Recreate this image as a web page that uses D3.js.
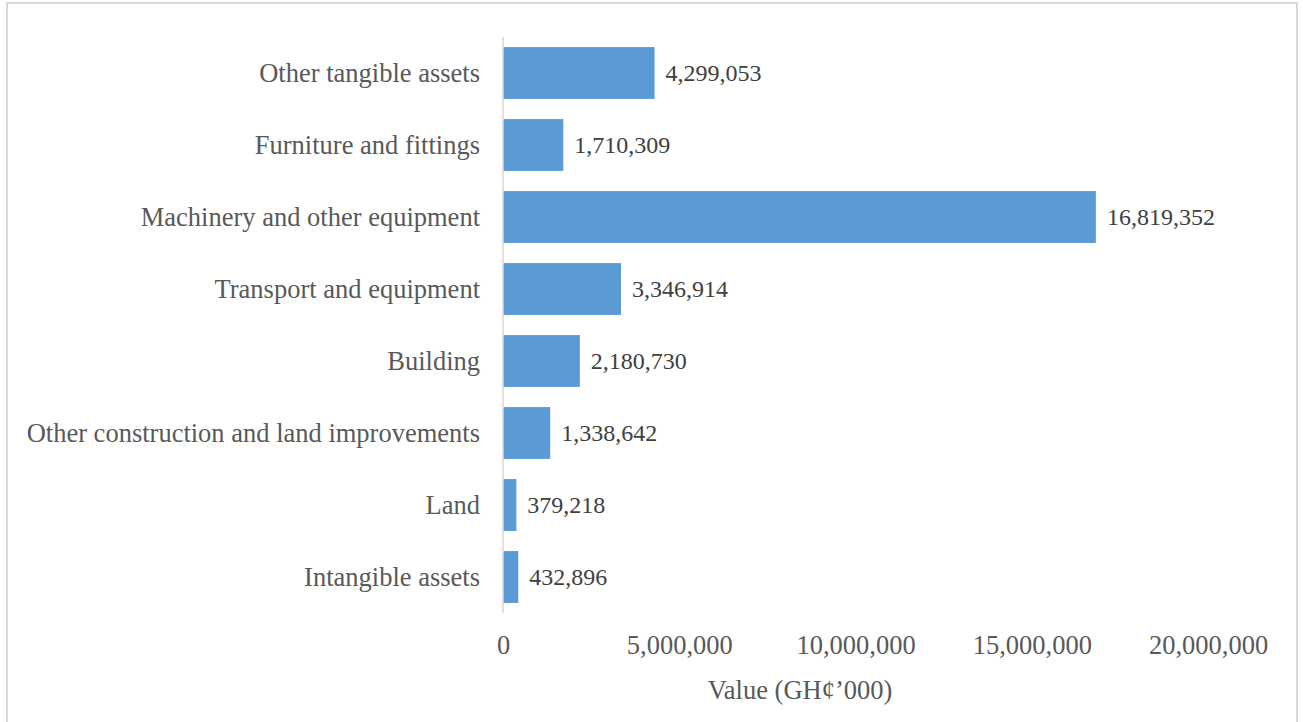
<!DOCTYPE html>
<html>
<head>
<meta charset="utf-8">
<script src="https://cdn.jsdelivr.net/npm/d3@7"></script>
<style>
  html, body { margin: 0; padding: 0; background: #fff; }
  svg { display: block; }
  text { font-family: "Liberation Serif", "Times New Roman", serif; }
</style>
</head>
<body>
<div id="chart"></div>
<script>
// Categories top to bottom, with their values (GH¢'000)
const categories = [
  'Other tangible assets',
  'Furniture and fittings',
  'Machinery and other equipment',
  'Transport and equipment',
  'Building',
  'Other construction and land improvements',
  'Land',
  'Intangible assets'
];
const values = [4299053, 1710309, 16819352, 3346914, 2180730, 1338642, 379218, 432896];
const xTicks = [0, 5000000, 10000000, 15000000, 20000000];
const xTitle = 'Value (GH\u00a2\u2019000)';

const W = 1303, H = 722;
const PLOT = { left: 503, right: 1208, top: 37, bottom: 613 };
const FONT_SIZE = 26.5;       // category, tick and title text
const LABEL_SIZE = 24;        // value labels at bar ends
const BAR_COLOR = '#5b9bd5';
const GRID_COLOR = '#d9d9d9';

const svg = d3.select('#chart').append('svg').attr('width', W).attr('height', H);

// frame round the chart (bottom edge lies past the picture)
svg.append('rect')
  .attr('x', 7).attr('y', 3).attr('width', 1290).attr('height', 740)
  .attr('fill', 'none').attr('stroke', GRID_COLOR).attr('stroke-width', 2);

const x = d3.scaleLinear().domain([0, 20000000]).range([PLOT.left, PLOT.right]);
const y = d3.scaleBand().domain(categories).range([PLOT.top, PLOT.bottom]).paddingInner(0.28).paddingOuter(0.14);

const fmt = d3.format(',');
const data = categories.map((c, i) => ({ name: c, value: values[i] }));

// bars
svg.append('g').selectAll('rect').data(data).join('rect')
  .attr('x', x(0))
  .attr('y', d => y(d.name))
  .attr('width', d => x(d.value) - x(0))
  .attr('height', y.bandwidth())
  .attr('fill', BAR_COLOR);

// vertical axis line
svg.append('line')
  .attr('x1', x(0)).attr('x2', x(0))
  .attr('y1', PLOT.top).attr('y2', PLOT.bottom)
  .attr('stroke', GRID_COLOR).attr('stroke-width', 1.5);

// category labels
svg.append('g').selectAll('text').data(categories).join('text')
  .attr('x', x(0) - 23)
  .attr('y', d => y(d) + y.bandwidth() / 2)
  .attr('dy', '0.35em')
  .attr('text-anchor', 'end')
  .attr('font-size', FONT_SIZE)
  .attr('fill', '#595959')
  .text(d => d);

// value labels
svg.append('g').selectAll('text').data(data).join('text')
  .attr('x', d => x(d.value) + 11)
  .attr('y', d => y(d.name) + y.bandwidth() / 2)
  .attr('dy', '0.35em')
  .attr('font-size', LABEL_SIZE)
  .attr('fill', '#404040')
  .text(d => fmt(d.value));

// x axis tick labels (no line, no ticks)
const xAxis = d3.axisBottom(x).tickValues(xTicks).tickFormat(fmt).tickSize(0).tickPadding(0);
const gx = svg.append('g').attr('transform', `translate(0, ${PLOT.bottom + 22})`).call(xAxis);
gx.select('.domain').remove();
gx.selectAll('text')
  .attr('font-family', '"Liberation Serif", "Times New Roman", serif')
  .attr('font-size', FONT_SIZE)
  .attr('fill', '#595959');

// axis title
svg.append('text')
  .attr('x', 800).attr('y', 690)
  .attr('dy', '0.35em')
  .attr('text-anchor', 'middle')
  .attr('font-size', FONT_SIZE)
  .attr('fill', '#595959')
  .text(xTitle);
</script>
</body>
</html>
